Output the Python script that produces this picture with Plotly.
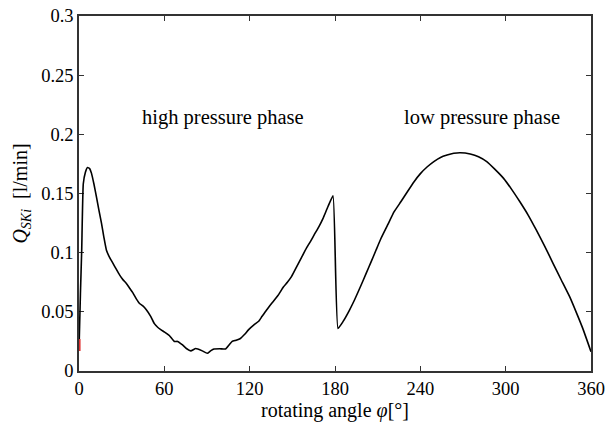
import plotly.graph_objects as go

angle = [0.2, 1.0, 1.9, 3.0, 4.5, 6.0, 7.5, 8.8, 10.5, 12.3, 14.0, 15.8, 17.5, 19.3, 21.5, 23.9,
         26.2, 28.6, 31.0, 33.3, 35.6, 37.9, 40.3, 42.6, 44.9, 47.2, 50.5, 53.0, 55.3, 57.5,
         60.0, 63.5, 67.0, 69.3, 72.8, 75.5, 78.6, 82.1, 86.7, 90.2, 92.5, 94.9, 99.0,
         103.0, 105.5, 107.7, 110.5, 113.5, 116.5, 119.3, 123.0, 126.3, 128.6, 131.0, 134.0,
         136.7, 140.0, 143.7, 146.5, 149.5, 153.0, 156.5, 160.0, 163.0, 165.8, 168.7,
         171.6, 175.1, 178.6, 182.1, 185.6, 190.2, 193.7, 198.4, 201.9, 205.3, 208.8, 212.3,
         217.0, 221.6, 226.3, 230.9, 235.6, 240.2, 244.9, 249.5, 254.2, 258.8, 263.5, 268.1,
         275.1, 280.9, 286.7, 292.5, 298.4, 304.2, 310.0, 315.8, 321.6, 327.4, 333.3, 339.1,
         344.9, 349.5, 354.2, 360.0]
flow = [0.027, 0.065, 0.102, 0.158, 0.168, 0.172, 0.171, 0.167, 0.158, 0.147, 0.136, 0.125,
        0.113, 0.102, 0.096, 0.091, 0.086, 0.081, 0.077, 0.074, 0.070, 0.066, 0.061, 0.057,
        0.055, 0.052, 0.046, 0.040, 0.037, 0.035, 0.033, 0.030, 0.025, 0.025, 0.022, 0.019,
        0.017, 0.019, 0.017, 0.015, 0.017, 0.0186, 0.0188, 0.0186, 0.022, 0.025, 0.026,
        0.0275, 0.031, 0.035, 0.039, 0.042, 0.046, 0.050, 0.055, 0.059, 0.064, 0.071, 0.075,
        0.080, 0.088, 0.096, 0.104, 0.110, 0.116, 0.122, 0.129, 0.139, 0.148, 0.036, 0.0417,
        0.0515, 0.060, 0.0727, 0.0825, 0.092, 0.102, 0.112, 0.1234, 0.1346, 0.143, 0.1515,
        0.160, 0.167, 0.1726, 0.177, 0.1805, 0.1825, 0.184, 0.1845, 0.1834, 0.1811, 0.177,
        0.1704, 0.163, 0.1535, 0.143, 0.1318, 0.119, 0.1056, 0.091, 0.0769, 0.063, 0.050,
        0.036, 0.0163]

red_angle = [0.4, 0.4]
red_flow = [0.017, 0.027]

x_ticks = [0, 60, 120, 180, 240, 300, 360]
y_ticks = [0, 0.05, 0.1, 0.15, 0.2, 0.25, 0.3]
y_ticktext = ["0", "0.05", "0.1", "0.15", "0.2", "0.25", "0.3"]

font_family = "Liberation Serif, Times New Roman, serif"

fig = go.Figure()
fig.add_trace(go.Scatter(x=angle, y=flow, mode="lines", line_shape="spline",
                         line=dict(color="black", width=1.6, smoothing=0.4), showlegend=False))
fig.add_trace(go.Scatter(x=red_angle, y=red_flow, mode="lines", cliponaxis=False,
                         line=dict(color="#e03030", width=2), showlegend=False))

fig.add_annotation(x=0.282, y=0.713, xref="paper", yref="paper", xanchor="center",
                   yanchor="middle", text="high pressure phase", showarrow=False,
                   font=dict(family=font_family, size=20.5, color="black"))
fig.add_annotation(x=0.787, y=0.713, xref="paper", yref="paper", xanchor="center",
                   yanchor="middle", text="low pressure phase", showarrow=False,
                   font=dict(family=font_family, size=20.5, color="black"))

axis_common = dict(showgrid=False, zeroline=False, showline=True, linecolor="#333333",
                   linewidth=1.5, mirror="ticks", ticks="inside", ticklen=5, tickwidth=1,
                   tickcolor="#333333", ticklabeloverflow="allow", automargin=False,
                   layer="below traces",
                   tickfont=dict(family=font_family, size=18.5, color="black"))

fig.update_layout(
    width=605, height=426,
    margin=dict(l=79, r=14, t=16, b=55),
    paper_bgcolor="white", plot_bgcolor="white",
    xaxis=dict(range=[0, 360], tickvals=x_ticks,
               title=dict(text="rotating angle <i>φ</i>[°]", standoff=2,
                          font=dict(family=font_family, size=20, color="black")),
               **axis_common),
    yaxis=dict(range=[0, 0.3], tickvals=y_ticks, ticktext=y_ticktext,
               title=dict(text="<i>Q</i><sub><i>SKi</i></sub>  [l/min]", standoff=8,
                          font=dict(family=font_family, size=20, color="black")),
               **axis_common),
)

fig.write_html("out.html")
